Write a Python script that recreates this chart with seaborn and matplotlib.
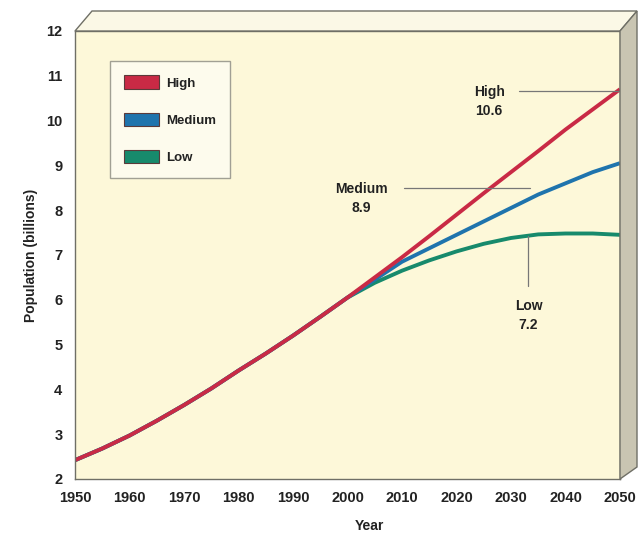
import pandas as pd
import numpy as np
import matplotlib
matplotlib.use("Agg")
import matplotlib.pyplot as plt
from matplotlib.patches import Patch, Polygon
import seaborn as sns

# data (billions)
years = [1950, 1955, 1960, 1965, 1970, 1975, 1980, 1985, 1990, 1995, 2000,
         2005, 2010, 2015, 2020, 2025, 2030, 2035, 2040, 2045, 2050]
history = [2.42, 2.68, 2.97, 3.30, 3.65, 4.02, 4.42, 4.80, 5.20, 5.62, 6.05]
high_proj = [6.50, 6.95, 7.42, 7.90, 8.38, 8.85, 9.32, 9.80, 10.25, 10.70]
medium_proj = [6.45, 6.85, 7.15, 7.45, 7.75, 8.05, 8.35, 8.60, 8.85, 9.05]
low_proj = [6.38, 6.65, 6.88, 7.08, 7.25, 7.38, 7.46, 7.48, 7.48, 7.45]
scenarios = ['High', 'Medium', 'Low']
end_labels = {'High': '10.6', 'Medium': '8.9', 'Low': '7.2'}
colors = {'High': '#c92a45', 'Medium': '#1f74ad', 'Low': '#178a6c'}

rows = []
for name, proj in zip(scenarios, [high_proj, medium_proj, low_proj]):
    for y, v in zip(years, history + proj):
        rows.append({'year': y, 'population': v, 'scenario': name})
df = pd.DataFrame(rows)

sns.set_style("white")
plt.rcParams['font.family'] = ['Liberation Sans', 'DejaVu Sans']
plt.rcParams['font.weight'] = 'bold'

W, H = 642, 535
fig = plt.figure(figsize=(W / 100, H / 100), dpi=100)
fig.patch.set_facecolor('white')
L, R, T, B = 75, 620, 31, 479
ax = fig.add_axes([L / W, 1 - B / H, (R - L) / W, (B - T) / H])
ax.set_facecolor('#fdf8d9')

# draw low first so high sits on top
for name in ['Low', 'Medium', 'High']:
    sns.lineplot(data=df[df['scenario'] == name], x='year', y='population',
                 color=colors[name], linewidth=2.8, ax=ax, legend=False,
                 solid_capstyle='butt')

ax.set_xlim(1950, 2050)
ax.set_ylim(2, 12)
ax.set_xticks(range(1950, 2051, 10))
ax.set_yticks(range(2, 13))
ax.tick_params(axis='x', direction='in', length=9, color='#888888',
               labelsize=10.5, pad=9, labelcolor='#222222')
ax.tick_params(axis='y', direction='in', length=5, color='#888888',
               labelsize=10.5, pad=9, labelcolor='#222222')
for lab in ax.get_xticklabels() + ax.get_yticklabels():
    lab.set_fontweight('bold')
for s in ax.spines.values():
    s.set_color('#6f6f66')
    s.set_linewidth(1.0)

ax.set_xlabel('Year', fontsize=10, fontweight='bold', color='#222222')
ax.set_ylabel('Population (billions)', fontsize=10, fontweight='bold', color='#222222')
ax.xaxis.set_label_coords(0.54, -0.09)
ax.yaxis.set_label_coords(-0.068, 0.5)

# end labels with leader lines
ax.text(2026, 10.43, 'High\n' + end_labels['High'], ha='center', va='center',
        fontsize=10, fontweight='bold', color='#222222', linespacing=1.45)
ax.plot([2031.5, 2050], [10.65, 10.65], color='#777777', lw=0.9)
ax.text(2002.5, 8.26, 'Medium\n' + end_labels['Medium'], ha='center', va='center',
        fontsize=10, fontweight='bold', color='#222222', linespacing=1.45)
ax.plot([2010.3, 2033.5], [8.5, 8.5], color='#777777', lw=0.9)
ax.text(2033.2, 5.65, 'Low\n' + end_labels['Low'], ha='center', va='center',
        fontsize=10, fontweight='bold', color='#222222', linespacing=1.45)
ax.plot([2033.2, 2033.2], [7.42, 6.3], color='#777777', lw=0.9)

# legend
handles = [Patch(facecolor=colors[n], edgecolor='#5a3a3a', linewidth=0.8, label=n)
           for n in scenarios]
leg = ax.legend(handles=handles, loc='upper left', bbox_to_anchor=(0.064, 0.932),
                frameon=True, fancybox=False, fontsize=9.5, handlelength=2.7,
                handleheight=1.2, labelspacing=1.75, borderpad=1.05,
                handletextpad=0.5, borderaxespad=0)
leg.get_frame().set_facecolor('#fdfcf3')
leg.get_frame().set_edgecolor('#8a8a80')
leg.get_frame().set_linewidth(1.0)
for t in leg.get_texts():
    t.set_fontweight('bold')
    t.set_color('#222222')

# 3D box faces around the plot
def fc(px, py):
    return (px / W, 1 - py / H)

dx, dy = 17, 20
top_face = Polygon([fc(L, T), fc(L + dx, T - dy), fc(R + dx, T - dy), fc(R, T)],
                   closed=True, transform=fig.transFigure, facecolor='#fbf8e6',
                   edgecolor='#6f6f66', linewidth=1.0)
side_face = Polygon([fc(R, T), fc(R + dx, T - dy), fc(R + dx, B - dy + 8), fc(R, B)],
                    closed=True, transform=fig.transFigure, facecolor='#c9c5b2',
                    edgecolor='#6f6f66', linewidth=1.0)
fig.patches.extend([top_face, side_face])

plt.savefig('out.png', dpi=100)
